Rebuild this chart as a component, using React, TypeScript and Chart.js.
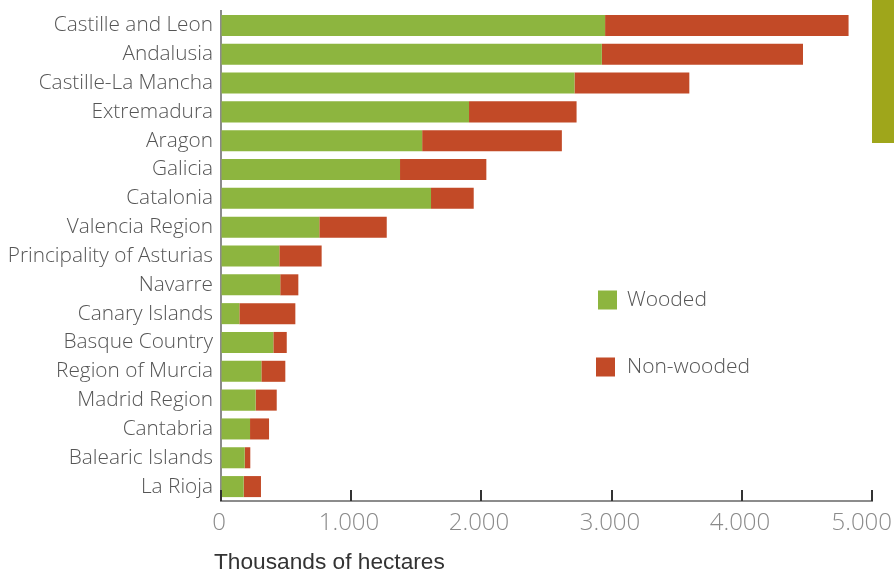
import React, { useEffect, useRef } from "react";
import { Chart, registerables } from "chart.js";

Chart.register(...registerables);

const categories = [
  "Castille and Leon",
  "Andalusia",
  "Castille-La Mancha",
  "Extremadura",
  "Aragon",
  "Galicia",
  "Catalonia",
  "Valencia Region",
  "Principality of Asturias",
  "Navarre",
  "Canary Islands",
  "Basque Country",
  "Region of Murcia",
  "Madrid Region",
  "Cantabria",
  "Balearic Islands",
  "La Rioja",
];

const wooded = [2950, 2925, 2715, 1905, 1545, 1375, 1613, 755, 448, 455, 141, 402, 310, 266, 223, 182, 174];
const nonWooded = [1870, 1545, 882, 826, 1073, 663, 328, 518, 325, 139, 430, 103, 184, 162, 146, 43, 133];

const xTicks = [0, 1000, 2000, 3000, 4000, 5000];
const xTickLabels = ["0", "1.000", "2.000", "3.000", "4.000", "5.000"];
const seriesNames = ["Wooded", "Non-wooded"];
const axisTitle = "Thousands of hectares";

const GREEN = "#8db53f";
const RED = "#c24a27";
const FONT = "'Open Sans', Roboto, sans-serif";

const extrasPlugin = {
  id: "extras",
  afterDraw(chart: any) {
    const ctx = chart.ctx;
    const xs = chart.scales.x;
    const area = chart.chartArea;
    const W = chart.width;
    ctx.save();
    // inward tick marks and tick labels
    ctx.strokeStyle = "#333333";
    ctx.lineWidth = 2;
    ctx.font = `300 24px ${FONT}`;
    ctx.fillStyle = "#8a8a8a";
    ctx.textBaseline = "middle";
    ctx.textAlign = "center";
    xTicks.forEach((v, i) => {
      const px = Math.round(xs.getPixelForValue(v));
      ctx.beginPath();
      ctx.moveTo(px, area.bottom);
      ctx.lineTo(px, area.bottom - 11);
      ctx.stroke();
      const label = xTickLabels[i];
      const w = ctx.measureText(label).width;
      const cx = Math.min(px - 2, W - 2 - w / 2);
      ctx.fillText(label, cx, 523);
    });
    // legend
    const colors = [GREEN, RED];
    const ys = [300, 367];
    ctx.font = `300 21px ${FONT}`;
    ctx.textAlign = "left";
    seriesNames.forEach((name, i) => {
      ctx.fillStyle = colors[i];
      ctx.fillRect(i === 0 ? 598 : 596, ys[i] - 9.5, 19, 19);
      ctx.fillStyle = "#555555";
      ctx.fillText(name, 627, ys[i]);
    });
    // axis title
    ctx.font = `400 22.7px 'Liberation Sans', Arial, sans-serif`;
    ctx.fillStyle = "#333333";
    ctx.fillText(axisTitle, 214, 563);
    // olive side marker
    ctx.fillStyle = "#9fa61b";
    ctx.fillRect(872, 0, 22, 143);
    ctx.restore();
  },
};

export default function App() {
  const ref = useRef<HTMLCanvasElement>(null);
  useEffect(() => {
    document.body.style.margin = "0";
    const chart = new Chart(ref.current as HTMLCanvasElement, {
      type: "bar",
      data: {
        labels: categories,
        datasets: [
          { label: seriesNames[0], data: wooded, backgroundColor: GREEN, barPercentage: 0.73, categoryPercentage: 1 },
          { label: seriesNames[1], data: nonWooded, backgroundColor: RED, barPercentage: 0.73, categoryPercentage: 1 },
        ],
      },
      options: {
        indexAxis: "y",
        animation: false,
        responsive: false,
        maintainAspectRatio: false,
        layout: { padding: { top: 11, right: 22, left: 0, bottom: 0 } },
        plugins: { legend: { display: false }, tooltip: { enabled: false } },
        scales: {
          x: {
            stacked: true,
            min: 0,
            max: 5000,
            afterFit(scale: any) {
              scale.height = 72;
              scale.paddingLeft = 0;
              scale.paddingRight = 0;
            },
            afterBuildTicks(scale: any) {
              scale.ticks = xTicks.map((v) => ({ value: v }));
            },
            grid: { display: true, drawOnChartArea: false, drawTicks: false },
            border: { display: true, color: "#8c8c8c", width: 2 },
            ticks: { display: false },
          },
          y: {
            stacked: true,
            afterFit(scale: any) {
              scale.width = 221;
              scale.paddingTop = 0;
              scale.paddingBottom = 0;
            },
            grid: { display: false, drawTicks: false },
            border: { display: true, color: "#8c8c8c", width: 2 },
            ticks: {
              padding: 8,
              color: "#555555",
              font: { family: FONT, size: 20.8, weight: "300" },
              autoSkip: false,
            },
          },
        },
      },
      plugins: [extrasPlugin],
    });
    return () => chart.destroy();
  }, []);
  return (
    <div style={{ position: "absolute", left: 0, top: 0, width: 894, height: 573 }}>
      <canvas ref={ref} width={894} height={573} style={{ width: 894, height: 573 }} />
    </div>
  );
}
